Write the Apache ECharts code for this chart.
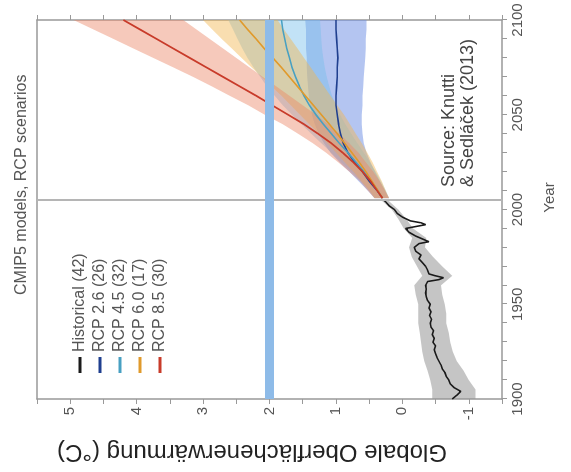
<!DOCTYPE html>
<html><head><meta charset="utf-8">
<script src="https://cdn.jsdelivr.net/npm/echarts@6/dist/echarts.min.js"></script>
<style>
html,body{margin:0;padding:0;width:571px;height:472px;overflow:hidden;background:#fff;}
#chart{position:absolute;left:0;top:0;width:472px;height:571px;transform-origin:0 0;transform:translate(0,472px) rotate(-90deg);}
</style></head>
<body><div id="chart"></div>
<script>
// ---- Data ----
const histYears = [1900,1902,1904,1906,1908,1910,1912,1914,1916,1918,1920,1922,1924,1926,1928,1930,1932,1934,1936,1938,1940,1942,1944,1946,1948,1950,1952,1954,1956,1958,1960,1962,1963,1964,1965,1966,1968,1970,1972,1974,1976,1978,1980,1982,1983,1984,1986,1988,1990,1991,1992,1993,1994,1996,1998,2000,2002,2004,2005];
const histTemp  = [-0.75,-0.82,-0.88,-0.78,-0.72,-0.7,-0.66,-0.64,-0.6,-0.58,-0.55,-0.52,-0.5,-0.48,-0.5,-0.46,-0.48,-0.45,-0.47,-0.43,-0.42,-0.44,-0.41,-0.43,-0.4,-0.42,-0.38,-0.36,-0.35,-0.36,-0.35,-0.38,-0.55,-0.62,-0.5,-0.4,-0.38,-0.35,-0.3,-0.25,-0.28,-0.2,-0.18,-0.25,-0.4,-0.38,-0.2,-0.1,-0.05,-0.2,-0.35,-0.28,-0.12,0.0,0.08,0.12,0.2,0.25,0.28];
const histBandYears = [1900,1905,1910,1915,1920,1925,1930,1935,1940,1945,1950,1955,1960,1965,1970,1975,1980,1985,1990,1995,2000,2005];
const histHi = [-0.45,-0.45,-0.42,-0.38,-0.33,-0.3,-0.28,-0.26,-0.24,-0.24,-0.24,-0.2,-0.18,-0.3,-0.22,-0.14,-0.1,-0.15,-0.02,0.06,0.16,0.32];
const histLo = [-1.1,-1.1,-1.0,-0.92,-0.82,-0.76,-0.72,-0.7,-0.66,-0.66,-0.64,-0.6,-0.58,-0.75,-0.6,-0.46,-0.34,-0.36,-0.16,-0.06,0.06,0.22];

const rcpYears = [2006,2010,2015,2020,2025,2030,2035,2040,2045,2050,2055,2060,2065,2070,2075,2080,2085,2090,2095,2100];
const rcp26 = [0.3,0.38,0.5,0.6,0.72,0.82,0.89,0.93,0.96,0.98,1.0,1.0,0.99,0.98,0.98,0.97,0.98,0.99,1.0,1.0];
const rcp26Hi = [0.42,0.52,0.66,0.8,0.95,1.08,1.18,1.26,1.32,1.36,1.39,1.41,1.42,1.43,1.44,1.44,1.45,1.45,1.45,1.46];
const rcp26Lo = [0.2,0.26,0.34,0.41,0.48,0.54,0.58,0.6,0.61,0.61,0.6,0.6,0.59,0.58,0.57,0.56,0.55,0.55,0.54,0.54];
const rcp45 = [0.3,0.37,0.47,0.58,0.7,0.82,0.95,1.07,1.19,1.3,1.4,1.48,1.55,1.61,1.66,1.7,1.74,1.77,1.8,1.82];
const rcp45Hi = [0.42,0.5,0.63,0.77,0.92,1.07,1.22,1.37,1.52,1.66,1.8,1.92,2.04,2.14,2.24,2.33,2.41,2.48,2.55,2.62];
const rcp45Lo = [0.2,0.25,0.32,0.4,0.49,0.58,0.68,0.77,0.86,0.94,1.0,1.06,1.1,1.14,1.17,1.19,1.21,1.22,1.23,1.24];
const rcp60 = [0.3,0.37,0.46,0.55,0.65,0.76,0.87,0.98,1.1,1.22,1.34,1.46,1.58,1.7,1.82,1.95,2.08,2.2,2.33,2.45];
const rcp60Hi = [0.42,0.5,0.62,0.74,0.87,1.0,1.13,1.26,1.4,1.54,1.68,1.82,1.97,2.12,2.27,2.42,2.57,2.72,2.86,3.0];
const rcp60Lo = [0.2,0.25,0.31,0.38,0.45,0.53,0.61,0.7,0.79,0.88,0.98,1.08,1.18,1.28,1.38,1.48,1.58,1.68,1.78,1.88];
const rcp85 = [0.3,0.38,0.48,0.6,0.74,0.9,1.07,1.27,1.48,1.72,1.96,2.2,2.45,2.7,2.95,3.2,3.45,3.7,3.95,4.2];
const rcp85Hi = [0.42,0.52,0.64,0.8,0.97,1.15,1.35,1.57,1.8,2.07,2.32,2.6,2.87,3.15,3.45,3.75,4.05,4.35,4.65,4.95];
const rcp85Lo = [0.2,0.26,0.34,0.44,0.55,0.66,0.8,0.95,1.12,1.3,1.5,1.7,1.9,2.1,2.3,2.5,2.7,2.9,3.1,3.3];

const seriesNames = ['Historical (42)','RCP 2.6 (26)','RCP 4.5 (32)','RCP 6.0 (17)','RCP 8.5 (30)'];
const refYear = 2005;
const targetTemp = 2;
const titleText = 'CMIP5 models, RCP scenarios';
const sourceText = 'Source: Knutti\n& Sedláček (2013)';
const xName = 'Year';
const yName = 'Globale Oberflächenerwärmung (°C)';

// ---- Chart ----
const FONT = '"Liberation Sans", Arial, sans-serif';
const chart = echarts.init(document.getElementById('chart'), null, {renderer:'canvas'});

function pairs(xs, ys){ return xs.map((x,i)=>[x, ys[i]]); }
function band(name, xs, lo, hi, fill, z){
  return {
    type:'custom', name:name, silent:true, z:z,
    data: xs.map((x,i)=>[x, lo[i], hi[i]]),
    encode:{x:0, y:[1,2]},
    renderItem:function(params, api){
      if (params.dataIndex !== 0) return null;
      const pts = [];
      for (let i=0;i<xs.length;i++) pts.push(api.coord([xs[i], hi[i]]));
      for (let i=xs.length-1;i>=0;i--) pts.push(api.coord([xs[i], lo[i]]));
      return {type:'polygon', shape:{points:pts}, style:{fill:fill}};
    }
  };
}
function line(name, xs, ys, color, width, z){
  return {type:'line', name:name, data:pairs(xs,ys), showSymbol:false, symbol:'none',
    lineStyle:{color:color, width:width}, itemStyle:{color:color}, z:z, silent:true};
}
const axisColor = '#999999';

chart.setOption({
  animation:false,
  textStyle:{fontFamily:FONT},
  title:{text:titleText, left:172, top:9, textStyle:{fontFamily:FONT, fontSize:16, fontWeight:'normal', color:'#555'}},
  legend:{
    data:seriesNames, orient:'vertical', left:94, top:67, itemGap:4,
    itemWidth:16, itemHeight:3, icon:'rect',
    textStyle:{fontFamily:FONT, fontSize:16, color:'#555'}
  },
  grid:{left:68, right:20, top:37, bottom:69},
  xAxis:[{
    type:'value', min:1900, max:2100, interval:10, position:'bottom',
    axisLine:{show:true, onZero:false, lineStyle:{color:axisColor, width:1.5}},
    axisTick:{show:true, length:5, lineStyle:{color:axisColor}},
    axisLabel:{formatter:v=> (v%50===0? String(v):''), color:'#555', fontSize:15, margin:8, fontFamily:FONT},
    splitLine:{show:false},
    name:xName, nameLocation:'middle', nameGap:40,
    nameTextStyle:{color:'#555', fontSize:15, fontFamily:FONT, padding:[0,0,0,24]}
  },{
    type:'value', min:1900, max:2100, interval:10, position:'top',
    axisLine:{show:true, onZero:false, lineStyle:{color:axisColor, width:1.5}},
    axisTick:{show:false}, axisLabel:{show:false}, splitLine:{show:false}
  }],
  yAxis:[{
    type:'value', min:-1.5, max:5.5, interval:0.5, position:'left',
    axisLine:{show:true, onZero:false, lineStyle:{color:axisColor, width:1.5}},
    axisTick:{show:true, length:5, lineStyle:{color:axisColor}},
    axisLabel:{formatter:v=> (Number.isInteger(v)? String(v):''), color:'#555', fontSize:15, margin:8, fontFamily:FONT},
    splitLine:{show:false},
    name:yName, nameLocation:'middle', nameRotate:90, nameGap:41,
    nameTextStyle:{color:'#222', fontSize:24, fontFamily:FONT, padding:[0,0,0,35]}
  },{
    type:'value', min:-1.5, max:5.5, interval:0.5, position:'right',
    axisLine:{show:true, onZero:false, lineStyle:{color:axisColor, width:1.5}},
    axisTick:{show:true, length:5, lineStyle:{color:axisColor}},
    axisLabel:{show:false}, splitLine:{show:false}
  }],
  graphic:[{
    type:'text', left:285, top:440, silent:true,
    style:{text:sourceText, fontSize:18, lineHeight:19, fill:'#444', fontFamily:FONT}
  }],
  series:[
    band('histBand', histBandYears, histLo, histHi, 'rgba(150,150,150,0.55)', 1),
    band('b26', rcpYears, rcp26Lo, rcp26Hi, 'rgba(105,140,228,0.5)', 1),
    band('b45', rcpYears, rcp45Lo, rcp45Hi, 'rgba(120,190,235,0.45)', 1),
    band('b60', rcpYears, rcp60Lo, rcp60Hi, 'rgba(242,182,80,0.45)', 1),
    band('b85', rcpYears, rcp85Lo, rcp85Hi, 'rgba(236,135,105,0.45)', 1),
    Object.assign(line(seriesNames[0], histYears, histTemp, '#1a1a1a', 1.6, 3), {
      markLine:{silent:true, symbol:['none','none'], label:{show:false},
        lineStyle:{color:'#b5b5b5', width:2, type:'solid'}, data:[{xAxis:refYear}]}
    }),
    line(seriesNames[1], rcpYears, rcp26, '#1f3f8f', 1.6, 3),
    line(seriesNames[2], rcpYears, rcp45, '#48a0c2', 1.6, 3),
    line(seriesNames[3], rcpYears, rcp60, '#e09a2c', 1.6, 3),
    line(seriesNames[4], rcpYears, rcp85, '#c83b2a', 1.8, 3),
    {type:'line', name:'target', data:[], silent:true, z:10,
      markLine:{silent:true, symbol:['none','none'], label:{show:false},
        lineStyle:{color:'#8ebbe8', width:9, type:'solid'}, data:[{yAxis:targetTemp}]}}
  ]
});
</script>
</body></html>
